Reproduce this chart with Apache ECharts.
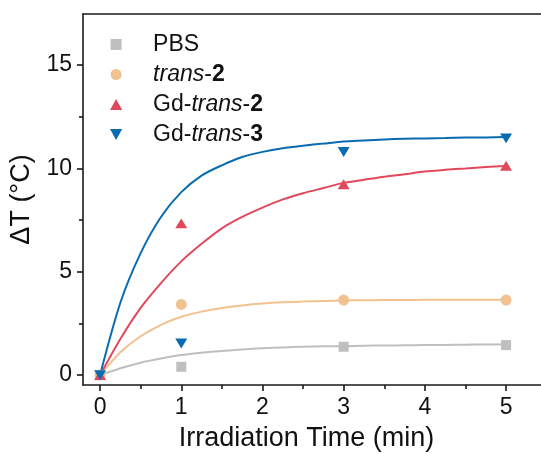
<!DOCTYPE html>
<html>
<head>
<meta charset="utf-8">
<script src="https://cdn.jsdelivr.net/npm/echarts@6/dist/echarts.min.js"></script>
<style>
  html, body { margin: 0; padding: 0; background: #fff; }
  #chart { width: 541px; height: 454px; }
</style>
</head>
<body>
<div id="chart"></div>
<script>
// Measured temperature rise at each irradiation time
const time = [0, 1, 3, 5];
const pbs = [0, 0.4, 1.37, 1.45];
const trans2 = [0, 3.42, 3.63, 3.63];
const gdTrans2 = [0, 7.34, 9.23, 10.13];
const gdTrans3 = [0, 1.53, 10.79, 11.45];

// Fitted heating curves, sampled every 0.25 min
const fitTime = [0, 0.25, 0.5, 0.75, 1, 1.25, 1.5, 1.75, 2, 2.25, 2.5, 2.75, 3, 3.25, 3.5, 3.75, 4, 4.25, 4.5, 4.75, 5];
const pbsFit = [0, 0.33, 0.6, 0.8, 0.97, 1.08, 1.17, 1.24, 1.3, 1.34, 1.37, 1.39, 1.4, 1.42, 1.43, 1.44, 1.45, 1.46, 1.47, 1.48, 1.49];
const trans2Fit = [0, 1.1, 1.88, 2.43, 2.82, 3.07, 3.25, 3.37, 3.46, 3.52, 3.56, 3.59, 3.61, 3.62, 3.63, 3.635, 3.64, 3.64, 3.645, 3.65, 3.65];
const gdTrans2Fit = [0, 1.75, 3.25, 4.45, 5.5, 6.35, 7.1, 7.65, 8.1, 8.5, 8.8, 9.05, 9.3, 9.45, 9.6, 9.72, 9.85, 9.93, 10.0, 10.07, 10.12];
const gdTrans3Fit = [0, 3.5, 5.9, 7.65, 8.85, 9.65, 10.15, 10.55, 10.8, 10.98, 11.1, 11.2, 11.3, 11.35, 11.4, 11.43, 11.45, 11.47, 11.49, 11.5, 11.52];

// Tick positions
const xTicks = [0, 1, 2, 3, 4, 5];
const xMinorTicks = [0.5, 1.5, 2.5, 3.5, 4.5];
const yTicks = [0, 5, 10, 15];
const yMinorTicks = [2.5, 7.5, 12.5];

const names = ['PBS', 'trans-2', 'Gd-trans-2', 'Gd-trans-3'];
const colors = ['#bfbfbf', '#f1c190', '#e0495c', '#0a6cb0'];

const SQUARE = 'path://M0,0 L10,0 L10,10 L0,10 Z';
const CIRCLE = 'path://M5,0 A5,5 0 1,1 4.99,0 Z';
const TRI_UP = 'path://M5,0 L10,9 L0,9 Z';
const TRI_DOWN = 'path://M0,0 L10,0 L5,9 Z';
const symbols = [SQUARE, CIRCLE, TRI_UP, TRI_DOWN];
const symbolSizes = [[10, 10], [11, 11], [12, 11], [12, 11]];

const FONT = 'Liberation Sans, Arial, sans-serif';
const pair = (xs, ys) => xs.map((x, i) => [x, ys[i]]);

const measured = [pbs, trans2, gdTrans2, gdTrans3];
const fits = [pbsFit, trans2Fit, gdTrans2Fit, gdTrans3Fit];

const series = [];
fits.forEach((f, i) => {
  series.push({
    name: names[i] + ' fit',
    type: 'line',
    data: pair(fitTime, f),
    smooth: 0.3,
    showSymbol: false,
    lineStyle: { color: colors[i], width: 2 },
    z: 2,
    silent: true
  });
});
measured.forEach((m, i) => {
  series.push({
    name: names[i],
    type: 'scatter',
    data: pair(time, m),
    symbol: symbols[i],
    symbolSize: symbolSizes[i],
    symbolKeepAspect: true,
    itemStyle: { color: colors[i], opacity: 1 },
    z: 3 + i
  });
});

const labelFmt = {
  'PBS': 'PBS',
  'trans-2': '{i|trans}-{b|2}',
  'Gd-trans-2': 'Gd-{i|trans}-{b|2}',
  'Gd-trans-3': 'Gd-{i|trans}-{b|3}'
};

const axisLineStyle = { color: '#1a1a1a', width: 1.6 };
const LEG = 23;

const chart = echarts.init(document.getElementById('chart'), null, { renderer: 'canvas' });
chart.setOption({
  animation: false,
  backgroundColor: '#ffffff',
  grid: { left: 83, right: 0, top: 14, bottom: 69, containLabel: false, outerBoundsMode: 'none' },
  legend: {
    orient: 'vertical',
    left: 105,
    top: 28,
    itemWidth: 64,
    itemHeight: 11,
    itemGap: 7,
    selectedMode: false,
    data: names.map((n, i) => ({ name: n, icon: symbols[i] })),
    formatter: n => labelFmt[n],
    textStyle: {
      fontFamily: FONT, fontSize: LEG, color: '#111',
      rich: {
        i: { fontFamily: FONT, fontSize: LEG, fontStyle: 'italic', color: '#111' },
        b: { fontFamily: FONT, fontSize: LEG, fontWeight: 'bold', color: '#111' }
      }
    }
  },
  xAxis: [
    {
      type: 'value', min: -0.21, max: 5.43, position: 'bottom',
      name: 'Irradiation Time (min)', nameLocation: 'middle', nameGap: 40,
      nameTextStyle: { fontFamily: FONT, fontSize: 27, color: '#111', padding: [0, 0, 0, -11] },
      axisLine: { show: true, onZero: false, lineStyle: axisLineStyle },
      axisTick: { show: true, inside: false, length: 6, customValues: xTicks, lineStyle: axisLineStyle },
      axisLabel: { show: true, customValues: xTicks, margin: 11, fontFamily: FONT, fontSize: 23, color: '#111' },
      splitLine: { show: false }
    },
    {
      type: 'value', min: -0.21, max: 5.43, position: 'bottom',
      axisLine: { show: false, onZero: false },
      axisTick: { show: true, inside: false, length: 4, customValues: xMinorTicks, lineStyle: axisLineStyle },
      axisLabel: { show: false },
      splitLine: { show: false }
    },
    {
      type: 'value', min: -0.21, max: 5.43, position: 'top',
      axisLine: { show: true, onZero: false, lineStyle: axisLineStyle },
      axisTick: { show: false }, axisLabel: { show: false }, splitLine: { show: false }
    }
  ],
  yAxis: [
    {
      type: 'value', min: -0.48, max: 17.47, position: 'left',
      name: 'ΔT (°C)', nameLocation: 'middle', nameGap: 42, nameRotate: 90,
      nameTextStyle: { fontFamily: FONT, fontSize: 27, color: '#111' },
      axisLine: { show: true, onZero: false, lineStyle: axisLineStyle },
      axisTick: { show: true, inside: false, length: 6, customValues: yTicks, lineStyle: axisLineStyle },
      axisLabel: { show: true, customValues: yTicks, margin: 11, fontFamily: FONT, fontSize: 23, color: '#111' },
      splitLine: { show: false }
    },
    {
      type: 'value', min: -0.48, max: 17.47, position: 'left',
      axisLine: { show: false, onZero: false },
      axisTick: { show: true, inside: false, length: 4, customValues: yMinorTicks, lineStyle: axisLineStyle },
      axisLabel: { show: false },
      splitLine: { show: false }
    }
  ],
  series: series
});
</script>
</body>
</html>
